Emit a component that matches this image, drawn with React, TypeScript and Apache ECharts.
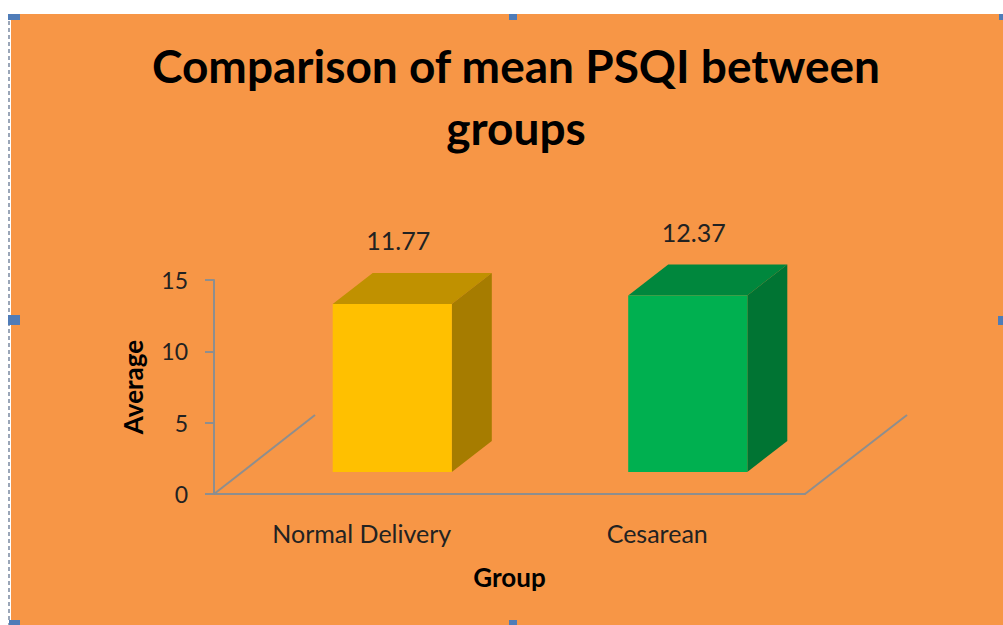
import React, { useEffect, useRef } from "react";
import * as echarts from "echarts";

const categories = ["Normal Delivery", "Cesarean"];
const values = [11.77, 12.37];
const frontColors = ["#FFC000", "#00B050"];
const topColors = ["#C09100", "#00873D"];
const sideColors = ["#A67C00", "#007433"];
const yTicks = { min: 0, max: 15, interval: 5 };

const FONT = "Lato, 'Open Sans', sans-serif";

export default function App() {
  const ref = useRef<HTMLDivElement>(null);
  useEffect(() => {
    if (!ref.current) return;
    const chart = echarts.init(ref.current, null, { renderer: "svg" });
    const axisGrey = "#8E8E8E";
    const handle = "#4F7CB8";
    const option: any = {
      animation: false,
      backgroundColor: "#ffffff",
      title: {
        text: "Comparison of mean PSQI between\ngroups",
        left: 511,
        top: 29,
        textAlign: "center",
        textStyle: {
          fontFamily: FONT,
          fontWeight: "bold",
          fontSize: 46,
          lineHeight: 62,
          color: "#000000",
        },
      },
      graphic: [
        { type: "rect", z: -10, shape: { x: 11, y: 14, width: 992, height: 611 }, style: { fill: "#F79646" } },
        { type: "line", z: 10, shape: { x1: 9, y1: 14, x2: 9, y2: 625 }, style: { stroke: "#9AA6B8", lineWidth: 2, lineDash: [4, 3] } },
        { type: "line", z: 1, shape: { x1: 214, y1: 494, x2: 315, y2: 415 }, style: { stroke: axisGrey, lineWidth: 2 } },
        { type: "line", z: 1, shape: { x1: 805, y1: 494, x2: 907, y2: 415 }, style: { stroke: axisGrey, lineWidth: 2 } },
        { type: "rect", z: 11, shape: { x: 8, y: 14, width: 12, height: 6 }, style: { fill: handle } },
        { type: "rect", z: 11, shape: { x: 509, y: 14, width: 8, height: 6 }, style: { fill: handle } },
        { type: "rect", z: 11, shape: { x: 999, y: 14, width: 4, height: 6 }, style: { fill: handle } },
        { type: "rect", z: 11, shape: { x: 8, y: 315, width: 12, height: 10 }, style: { fill: handle } },
        { type: "rect", z: 11, shape: { x: 998, y: 316, width: 5, height: 9 }, style: { fill: handle } },
        { type: "rect", z: 11, shape: { x: 9, y: 620, width: 11, height: 5 }, style: { fill: handle } },
        { type: "rect", z: 11, shape: { x: 509, y: 620, width: 8, height: 5 }, style: { fill: handle } },
      ],
      grid: { left: 214, right: 198, top: 280, bottom: 131, containLabel: false },
      xAxis: {
        type: "category",
        data: categories,
        name: "Group",
        nameLocation: "middle",
        nameGap: 70,
        nameTextStyle: { fontFamily: FONT, fontWeight: "bold", fontSize: 26, color: "#000" },
        axisLine: { show: true, lineStyle: { color: axisGrey, width: 2 } },
        axisTick: { show: false },
        axisLabel: { fontFamily: FONT, fontSize: 25, color: "#222", margin: 26 },
        splitLine: { show: false },
      },
      yAxis: {
        type: "value",
        min: yTicks.min,
        max: yTicks.max,
        interval: yTicks.interval,
        name: "Average",
        nameLocation: "middle",
        nameGap: 68,
        nameRotate: 90,
        nameTextStyle: { fontFamily: FONT, fontWeight: "bold", fontSize: 26, color: "#000" },
        axisLine: { show: true, lineStyle: { color: axisGrey, width: 2 } },
        axisTick: { show: true, inside: false, length: 9, lineStyle: { color: axisGrey, width: 2 } },
        axisLabel: { fontFamily: FONT, fontSize: 23, color: "#222", margin: 26 },
        splitLine: { show: false },
      },
      series: [
        {
          type: "custom",
          data: values.map((v, i) => [i, v]),
          encode: { x: 0, y: 1 },
          renderItem: (params: any, api: any) => {
            const i = api.value(0);
            const v = api.value(1);
            const p0 = api.coord([i, 0]);
            const p1 = api.coord([i, v]);
            const band = api.size([1, 0])[0];
            const w = band * 0.403;
            const shiftX = 30.5;
            const shiftY = -22;
            const dX = 40;
            const dY = -31;
            const cx = p0[0] + shiftX;
            const xl = cx - w / 2;
            const xr = cx + w / 2;
            const yb = p0[1] + shiftY;
            const yt = yb - (p0[1] - p1[1]);
            return {
              type: "group",
              children: [
                {
                  type: "polygon",
                  shape: { points: [[xl, yt], [xr, yt], [xr + dX, yt + dY], [xl + dX, yt + dY]] },
                  style: { fill: topColors[i] },
                },
                {
                  type: "polygon",
                  shape: { points: [[xr, yt], [xr + dX, yt + dY], [xr + dX, yb + dY], [xr, yb]] },
                  style: { fill: sideColors[i] },
                },
                {
                  type: "rect",
                  shape: { x: xl, y: yt, width: w, height: yb - yt },
                  style: { fill: frontColors[i] },
                },
                {
                  type: "text",
                  style: {
                    text: v.toFixed(2),
                    x: cx + 6,
                    y: yt + dY - 33,
                    align: "center",
                    verticalAlign: "middle",
                    fontFamily: FONT,
                    fontSize: 25,
                    fill: "#222",
                  },
                },
              ],
            };
          },
        },
      ],
    };
    chart.setOption(option);
    return () => chart.dispose();
  }, []);
  return (
    <div
      ref={ref}
      style={{ position: "fixed", left: 0, top: 0, width: 1003, height: 625 }}
    />
  );
}
